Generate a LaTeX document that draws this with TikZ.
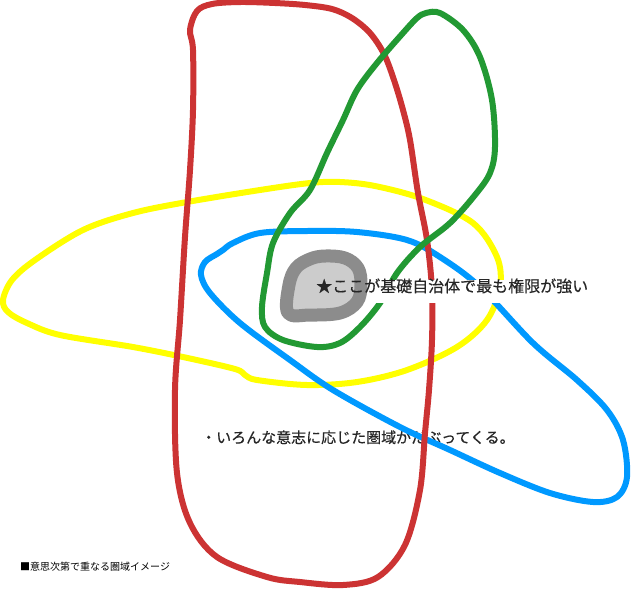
\documentclass[tikz,border=0pt]{standalone}
\usepackage{fontspec}
\setmainfont{Noto Sans CJK JP}
\newfontfamily\notefont{Noto Sans CJK JP}[FakeBold=0.35]
\definecolor{areared}{HTML}{CC3333}
\definecolor{areagreen}{HTML}{229933}
\definecolor{areayellow}{HTML}{FFFF00}
\definecolor{areablue}{HTML}{0099FF}
\definecolor{coreline}{HTML}{8C8C8C}
\definecolor{corefill}{HTML}{CCCCCC}
\definecolor{notetext}{HTML}{262626}
\pgfdeclarelayer{back}
\pgfdeclarelayer{mid}
\pgfsetlayers{back,mid,main}
\tikzset{
  area/.style={line width=6pt, line join=round},
  note/.style={inner sep=0pt, anchor=base west, text=notetext},
  bignote/.style={note, font=\notefont\fontsize{16}{16}\selectfont},
  midnote/.style={note, font=\notefont\fontsize{15}{15}\selectfont},
  smallnote/.style={note, text=black, font=\fontsize{10}{10}\selectfont}
}

\begin{document}
\begin{tikzpicture}[x=1pt,y=-1pt]
    \useasboundingbox (0,0) rectangle (640,590);
    % Label on the core area
    \node[bignote] (kiso) at (316,292) {★ここが基礎自治体で最も権限が強い};
    \begin{pgfonlayer}{back}
    \fill[white] (0,0) rectangle (640,590);
    % Label under the regions
    \node[midnote] (ishi) at (201,443) {・いろんな意志に応じた圏域がだぶってくる。};
    % Yellow region
    \draw[area, areayellow] plot[smooth cycle, tension=0.55] coordinates {
      (3,300) (12,280) (35,260) (83,230) (133,213) (187,202) (260,190)
      (310,183) (340,182) (375,186) (423,199) (473,223) (497,257) (500,287)
      (487,320) (457,347) (407,370) (357,382) (307,385) (257,380) (245,375)
      (235,369) (183,357) (133,347) (60,335) (27,323) (8,312)};
    % Blue region
    \draw[area, areablue] plot[smooth cycle, tension=0.55] coordinates {
      (205,262) (217,254) (223,250) (233,243) (260,233) (307,231) (357,232)
      (407,240) (440,257) (480,287) (533,343) (577,380) (607,410) (623,440)
      (627,477) (617,497) (593,502) (550,493) (500,473) (450,450) (400,427)
      (333,390) (290,360) (240,323) (210,293) (201,275)};
    % Red region
    \draw[area, areared] plot[smooth cycle, tension=0.55] coordinates {
      (193,50) (190,30) (197,11) (212,4) (240,2) (275,3) (305,5) (332,9)
      (352,18) (370,33) (384,54) (394,80) (403,110) (410,140) (418,193)
      (427,240) (432,290) (432,340) (429,390) (425,433) (420,490) (405,545)
      (378,577) (343,585) (300,582) (267,577) (217,557) (190,523) (177,473)
      (175,390) (180,320) (185,237) (190,170) (193,110)};
    % Green region
    \draw[area, areagreen] plot[smooth cycle, tension=0.55] coordinates {
      (417,18) (426,13) (440,13) (463,30) (480,57) (492,100) (495,147)
      (490,173) (475,195) (450,223) (420,247) (397,273) (380,303) (360,327)
      (340,343) (317,347) (283,340) (265,327) (262,307) (267,273) (273,243)
      (290,213) (310,190) (327,153) (343,120) (357,90) (377,63) (403,33)};
    % White ground behind the core label
    \fill[white] ([yshift=12pt]kiso.base west) rectangle ([yshift=-11pt]kiso.base east);
    \end{pgfonlayer}
    \begin{pgfonlayer}{mid}
    % Core municipality
    \draw[line width=13pt, line join=round, draw=coreline, fill=corefill]
      plot[smooth cycle, tension=0.6] coordinates {
      (288,313) (289,285) (296,268) (310,259) (325,256) (345,258) (358,268)
      (361,285) (357,302) (340,313) (310,315)};
    \end{pgfonlayer}
    % Caption
    \node[smallnote] (title) at (20,570) {■意思次第で重なる圏域イメージ};
\end{tikzpicture}
\end{document}
